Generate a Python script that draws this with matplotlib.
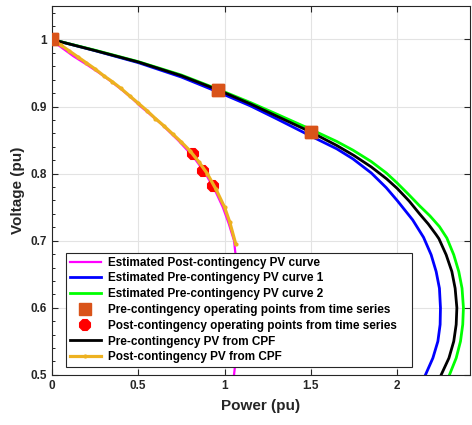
import matplotlib
matplotlib.use("Agg")
import matplotlib.pyplot as plt
from matplotlib.ticker import MultipleLocator

plt.rcParams["font.family"] = ["Liberation Sans", "DejaVu Sans"]
plt.rcParams["font.weight"] = "bold"

# estimated pre-contingency PV curves (power, voltage)
P_PRE1 = [0.00, 0.25, 0.50, 0.75, 0.96, 1.15, 1.30, 1.50, 1.65, 1.744, 1.85, 1.937,
          2.00, 2.09, 2.153, 2.197, 2.226, 2.245, 2.251, 2.249, 2.236, 2.207, 2.164]
V_PRE1 = [1.000, 0.9833, 0.9655, 0.944, 0.922, 0.901, 0.882, 0.856, 0.837, 0.822, 0.801, 0.779,
          0.760, 0.731, 0.705, 0.679, 0.654, 0.629, 0.600, 0.575, 0.550, 0.525, 0.500]

P_PRE2 = [0.00, 0.25, 0.50, 0.75, 0.96, 1.15, 1.30, 1.50, 1.65, 1.744, 1.85, 1.937,
          2.00, 2.07, 2.13, 2.19, 2.245, 2.288, 2.328, 2.357, 2.376, 2.384, 2.380, 2.367,
          2.342, 2.303]
V_PRE2 = [1.000, 0.984, 0.967, 0.947, 0.926, 0.906, 0.889, 0.866, 0.848, 0.835, 0.818, 0.801,
          0.786, 0.768, 0.752, 0.737, 0.721, 0.704, 0.679, 0.654, 0.629, 0.600, 0.575, 0.550,
          0.525, 0.500]

# estimated post-contingency PV curve (voltage, power)
V_POST = [1.00, 0.99, 0.975, 0.962, 0.95, 0.937, 0.925, 0.912, 0.90, 0.875, 0.85, 0.825,
          0.80, 0.775, 0.75, 0.725, 0.70, 0.66, 0.62, 0.59, 0.56, 0.53, 0.50]
P_POST = [0.00, 0.045, 0.125, 0.205, 0.275, 0.345, 0.405, 0.465, 0.515, 0.63, 0.73, 0.82,
          0.89, 0.945, 0.99, 1.025, 1.055, 1.072, 1.08, 1.082, 1.078, 1.068, 1.055]

# continuation power flow results
P_CPF_PRE = [0.00, 0.25, 0.50, 0.75, 0.96, 1.15, 1.30, 1.50, 1.65, 1.75, 1.85, 1.94,
             2.00, 2.07, 2.13, 2.18, 2.226, 2.242, 2.284, 2.317, 2.336, 2.346, 2.342, 2.328,
             2.300, 2.255]
V_CPF_PRE = [1.000, 0.9835, 0.9665, 0.9460, 0.925, 0.904, 0.886, 0.862, 0.842, 0.827, 0.810, 0.792,
             0.778, 0.759, 0.740, 0.725, 0.709, 0.703, 0.679, 0.654, 0.629, 0.600, 0.575, 0.550,
             0.525, 0.500]

P_CPF_POST = [0.00, 0.05, 0.10, 0.15, 0.20, 0.25, 0.30, 0.35, 0.40, 0.45, 0.50, 0.55,
              0.60, 0.65, 0.70, 0.75, 0.80, 0.85, 0.90, 0.95, 1.00, 1.03, 1.065]
V_CPF_POST = [1.000, 0.992, 0.983, 0.974, 0.965, 0.956, 0.946, 0.937, 0.927, 0.916, 0.905, 0.894,
              0.882, 0.871, 0.859, 0.847, 0.834, 0.818, 0.800, 0.777, 0.750, 0.728, 0.695]

# operating points from time series
P_PRE_OP = [0.0, 0.96, 1.5]
V_PRE_OP = [1.0, 0.925, 0.862]
P_POST_OP = [0.819, 0.877, 0.931]
V_POST_OP = [0.829, 0.804, 0.782]

fig = plt.figure(figsize=(4.72, 4.25), dpi=100)
ax = fig.add_axes([0.110, 0.118, 0.885, 0.868])

ax.plot(P_POST, V_POST, color="#ff00ff", lw=1.6, label="Estimated Post-contingency PV curve")
ax.plot(P_PRE1, V_PRE1, color="#0000ff", lw=2.0, label="Estimated Pre-contingency PV curve 1")
ax.plot(P_PRE2, V_PRE2, color="#00ff00", lw=2.0, label="Estimated Pre-contingency PV curve 2")
ax.plot(P_PRE_OP, V_PRE_OP, ls="none", marker="s", ms=9, color="#d95319",
        label="Pre-contingency operating points from time series")
ax.plot(P_POST_OP, V_POST_OP, ls="none", marker="8", ms=8.5, mew=1.5, color="#ff0000",
        label="Post-contingency operating points from time series")
ax.plot(P_CPF_PRE, V_CPF_PRE, color="black", lw=2.0, label="Pre-contingency PV from CPF")
ax.plot(P_CPF_POST, V_CPF_POST, color="#edb120", lw=2.3, marker=".", ms=4,
        label="Post-contingency PV from CPF")
# keep the pre-contingency square markers on top of the curves
ax.plot(P_PRE_OP, V_PRE_OP, ls="none", marker="s", ms=9, color="#d95319", zorder=5)

ax.set_xlim(0, 2.42)
ax.set_ylim(0.5, 1.05)
ax.set_xticks([0, 0.5, 1, 1.5, 2])
ax.set_xticklabels(["0", "0.5", "1", "1.5", "2"])
ax.set_yticks([0.5, 0.6, 0.7, 0.8, 0.9, 1.0])
ax.set_yticklabels(["0.5", "0.6", "0.7", "0.8", "0.9", "1"])
ax.yaxis.set_minor_locator(MultipleLocator(0.02))
ax.tick_params(direction="in", top=True, right=True, labelsize=8.5, colors="#262626", length=4)
ax.tick_params(which="minor", direction="in", left=True, right=False, length=2)
ax.grid(True, color="#e3e3e3", lw=0.8)
ax.set_axisbelow(True)
for s in ax.spines.values():
    s.set_color("#262626")
ax.set_xlabel("Power (pu)", fontsize=11, fontweight="bold", color="#262626", labelpad=5)
ax.set_ylabel("Voltage (pu)", fontsize=11, fontweight="bold", color="#262626", labelpad=4)

leg = ax.legend(loc="lower left", bbox_to_anchor=(0.019, 0.004, 0.856, 0.32), mode="expand",
                fancybox=False, framealpha=1, edgecolor="#262626",
                prop={"size": 8.5, "weight": "bold"},
                handlelength=2.6, labelspacing=0.32, borderpad=0.35, handletextpad=0.6)
leg.get_frame().set_linewidth(0.8)

fig.savefig("out.png", dpi=100)
